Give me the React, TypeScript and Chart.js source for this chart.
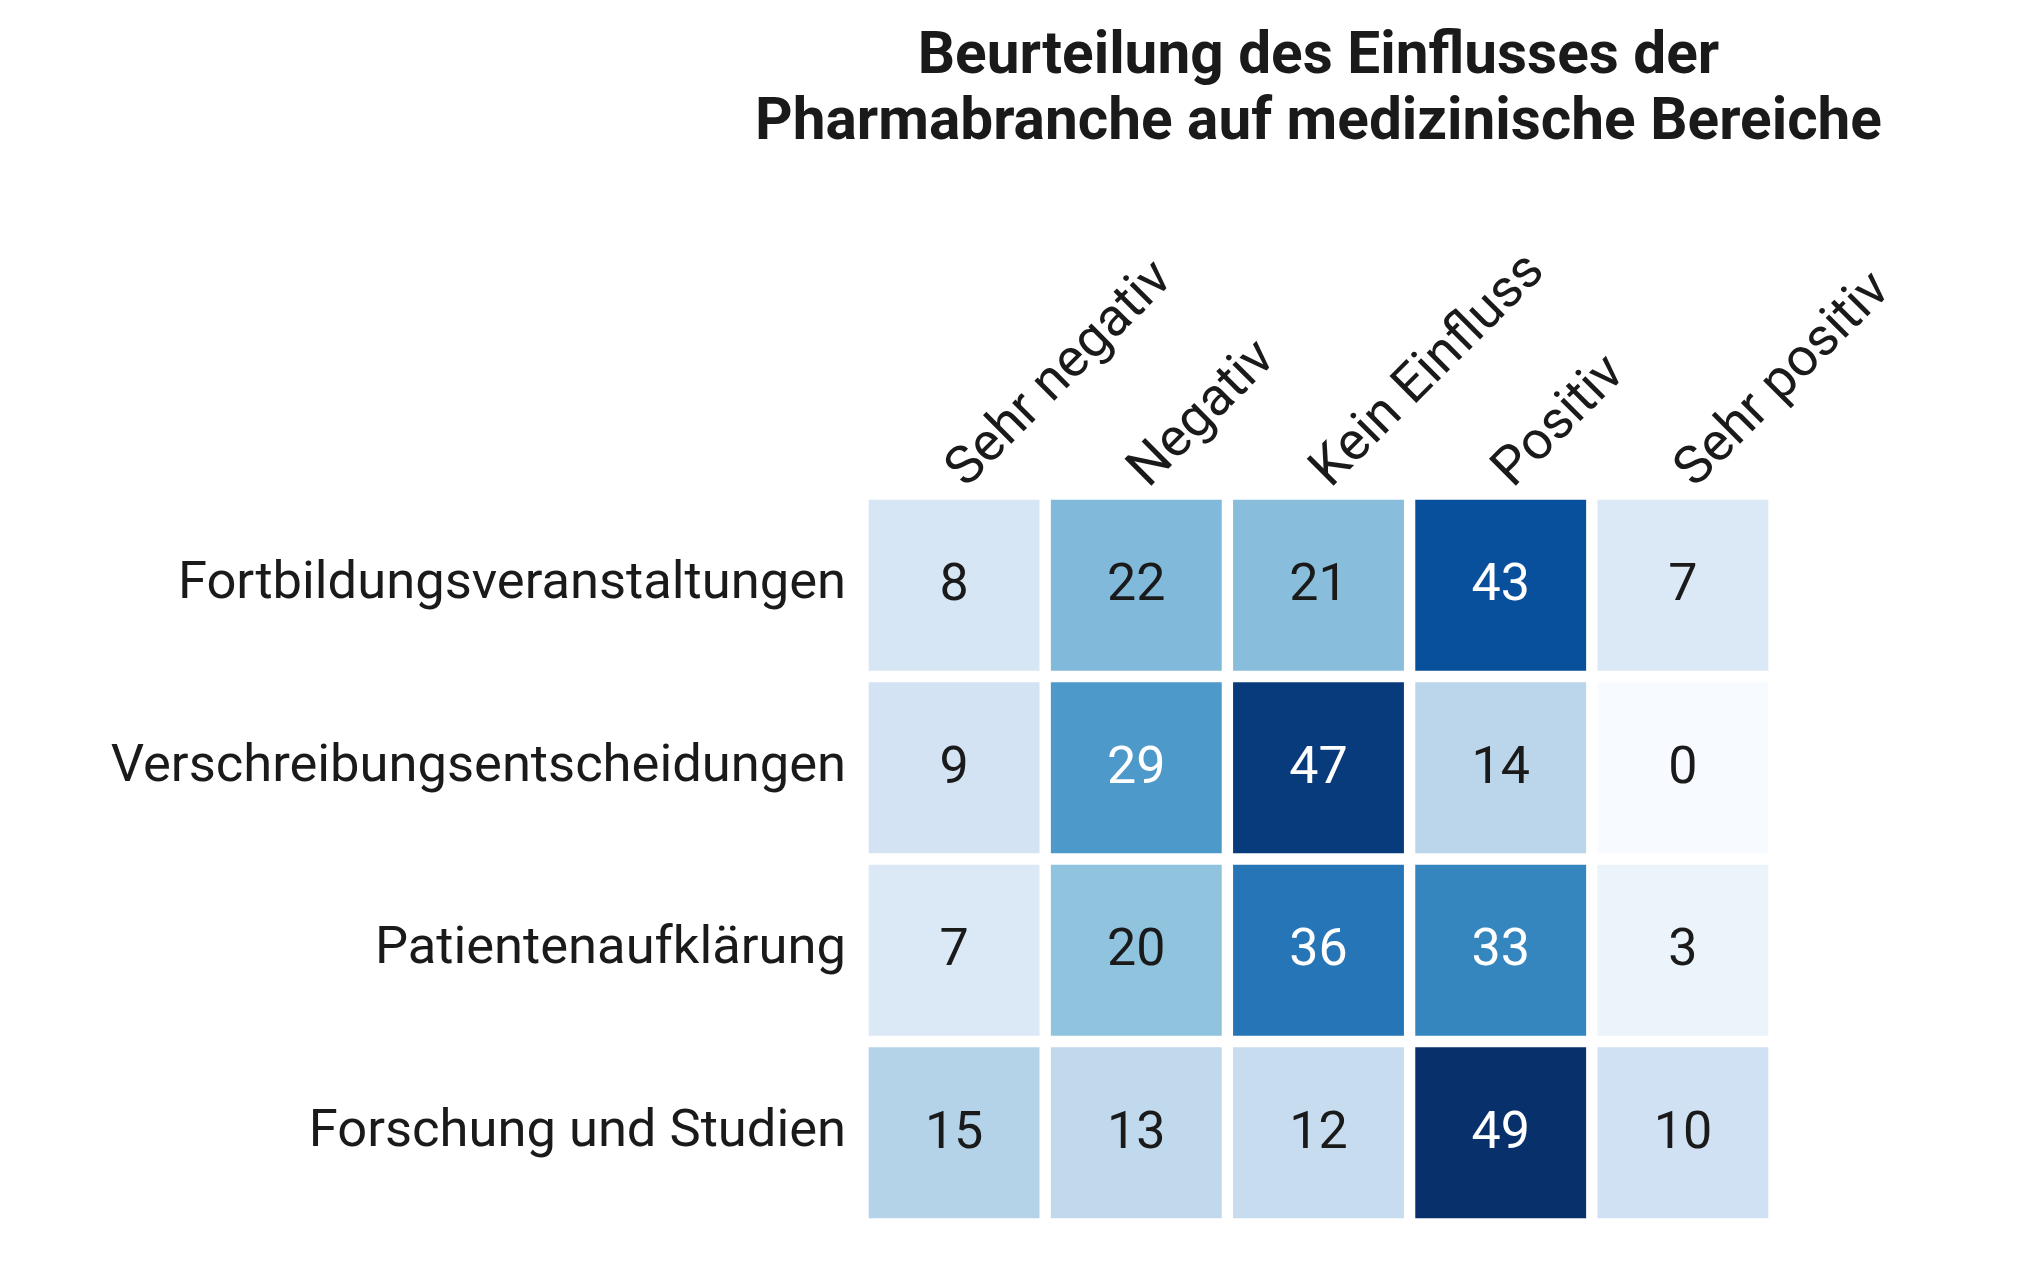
import React, { useEffect, useRef } from 'react';
import { Chart, registerables } from 'chart.js';

Chart.register(...registerables);

// ---- data ----
const columns = ['Sehr negativ', 'Negativ', 'Kein Einfluss', 'Positiv', 'Sehr positiv'];
const rows = [
  'Fortbildungsveranstaltungen',
  'Verschreibungsentscheidungen',
  'Patientenaufklärung',
  'Forschung und Studien',
];
const fortbildung = [8, 22, 21, 43, 7];
const verschreibung = [9, 29, 47, 14, 0];
const patienten = [7, 20, 36, 33, 3];
const forschung = [15, 13, 12, 49, 10];
const values = [fortbildung, verschreibung, patienten, forschung];
const titleLines = ['Beurteilung des Einflusses der', 'Pharmabranche auf medizinische Bereiche'];

// ---- colour map (Blues) ----
const bluesStops = [
  [247, 251, 255],
  [222, 235, 247],
  [198, 219, 239],
  [158, 202, 225],
  [107, 174, 214],
  [66, 146, 198],
  [33, 113, 181],
  [8, 81, 156],
  [8, 48, 107],
];
const allVals = values.flat();
const vmin = Math.min(...allVals);
const vmax = Math.max(...allVals);

function bluesRgb(v: number): number[] {
  let t = (v - vmin) / (vmax - vmin);
  t = Math.max(0, Math.min(1, t));
  const pos = t * (bluesStops.length - 1);
  const i = Math.min(Math.floor(pos), bluesStops.length - 2);
  const f = pos - i;
  const a = bluesStops[i];
  const b = bluesStops[i + 1];
  return [0, 1, 2].map((k) => Math.round(a[k] + (b[k] - a[k]) * f));
}
function rgbCss(c: number[]) {
  return `rgb(${c[0]}, ${c[1]}, ${c[2]})`;
}
function textColorFor(c: number[]) {
  const lin = c.map((x) => {
    const s = x / 255;
    return s <= 0.03928 ? s / 12.92 : Math.pow((s + 0.055) / 1.055, 2.4);
  });
  const lum = 0.2126 * lin[0] + 0.7152 * lin[1] + 0.0722 * lin[2];
  return lum < 0.408 ? '#ffffff' : '#1a1a1a';
}

const TEXT = '#1a1a1a';
const FONT = 'Roboto';

const titlePlugin = {
  id: 'heatTitle',
  afterDraw(chart: any) {
    const { ctx, chartArea } = chart;
    const cx = (chartArea.left + chartArea.right) / 2;
    ctx.save();
    ctx.font = `bold 58.5px ${FONT}`;
    ctx.fillStyle = TEXT;
    ctx.textAlign = 'center';
    ctx.textBaseline = 'alphabetic';
    titleLines.forEach((line, i) => ctx.fillText(line, cx, 73 + i * 66));
    ctx.restore();
  },
};

const annotPlugin = {
  id: 'heatAnnot',
  afterDatasetsDraw(chart: any) {
    const { ctx } = chart;
    ctx.save();
    ctx.font = `52px ${FONT}`;
    ctx.textAlign = 'center';
    ctx.textBaseline = 'middle';
    chart.data.datasets.forEach((_ds: any, di: number) => {
      const meta = chart.getDatasetMeta(di);
      meta.data.forEach((el: any, j: number) => {
        const { x, y, base } = el.getProps(['x', 'y', 'base'], true);
        const v = values[di][j];
        ctx.fillStyle = textColorFor(bluesRgb(v));
        ctx.fillText(String(v), x, (y + base) / 2 + 2);
      });
    });
    ctx.restore();
  },
};

export default function App() {
  const ref = useRef<HTMLCanvasElement | null>(null);

  useEffect(() => {
    document.body.style.margin = '0';
    const canvas = ref.current;
    if (!canvas) return;
    const chart = new Chart(canvas, {
      type: 'bar',
      data: {
        labels: columns,
        datasets: values.map((rowVals, r) => ({
          label: rows[r],
          data: rowVals.map(() => [r - 0.5, r + 0.5]),
          backgroundColor: rowVals.map((v) => rgbCss(bluesRgb(v))),
          borderColor: '#ffffff',
          borderWidth: 6,
          borderSkipped: false,
          grouped: false,
          categoryPercentage: 1,
          barPercentage: 1,
        })) as any,
      },
      options: {
        animation: false,
        responsive: false,
        devicePixelRatio: 1,
        layout: { padding: { top: 160, left: 0, right: 251, bottom: 64 } },
        plugins: {
          legend: { display: false },
          tooltip: { enabled: false },
          title: { display: false },
        },
        scales: {
          x: {
            type: 'category',
            position: 'top',
            offset: true,
            grid: { display: false, drawTicks: false },
            border: { display: false },
            ticks: {
              autoSkip: false,
              minRotation: 45,
              maxRotation: 45,
              padding: -8,
              labelOffset: 48,
              color: TEXT,
              font: { family: FONT, size: 53.5 },
            },
            afterFit: (s: any) => {
              s.height = 334;
            },
          },
          y: {
            type: 'linear',
            min: -0.5,
            max: rows.length - 0.5,
            reverse: true,
            grid: { display: false, drawTicks: false },
            border: { display: false },
            afterBuildTicks: (s: any) => {
              s.ticks = rows.map((_, i) => ({ value: i }));
            },
            ticks: {
              autoSkip: false,
              padding: 17,
              color: TEXT,
              font: { family: FONT, size: 52.5 },
              callback: (v: any) => rows[Math.round(Number(v))] ?? '',
            },
            afterFit: (s: any) => {
              s.width = 863;
            },
          },
        },
      },
      plugins: [titlePlugin, annotPlugin],
    });
    return () => chart.destroy();
  }, []);

  return (
    <div style={{ width: 2025, height: 1288, background: '#ffffff' }}>
      <canvas ref={ref} width={2025} height={1288} style={{ display: 'block' }} />
    </div>
  );
}
